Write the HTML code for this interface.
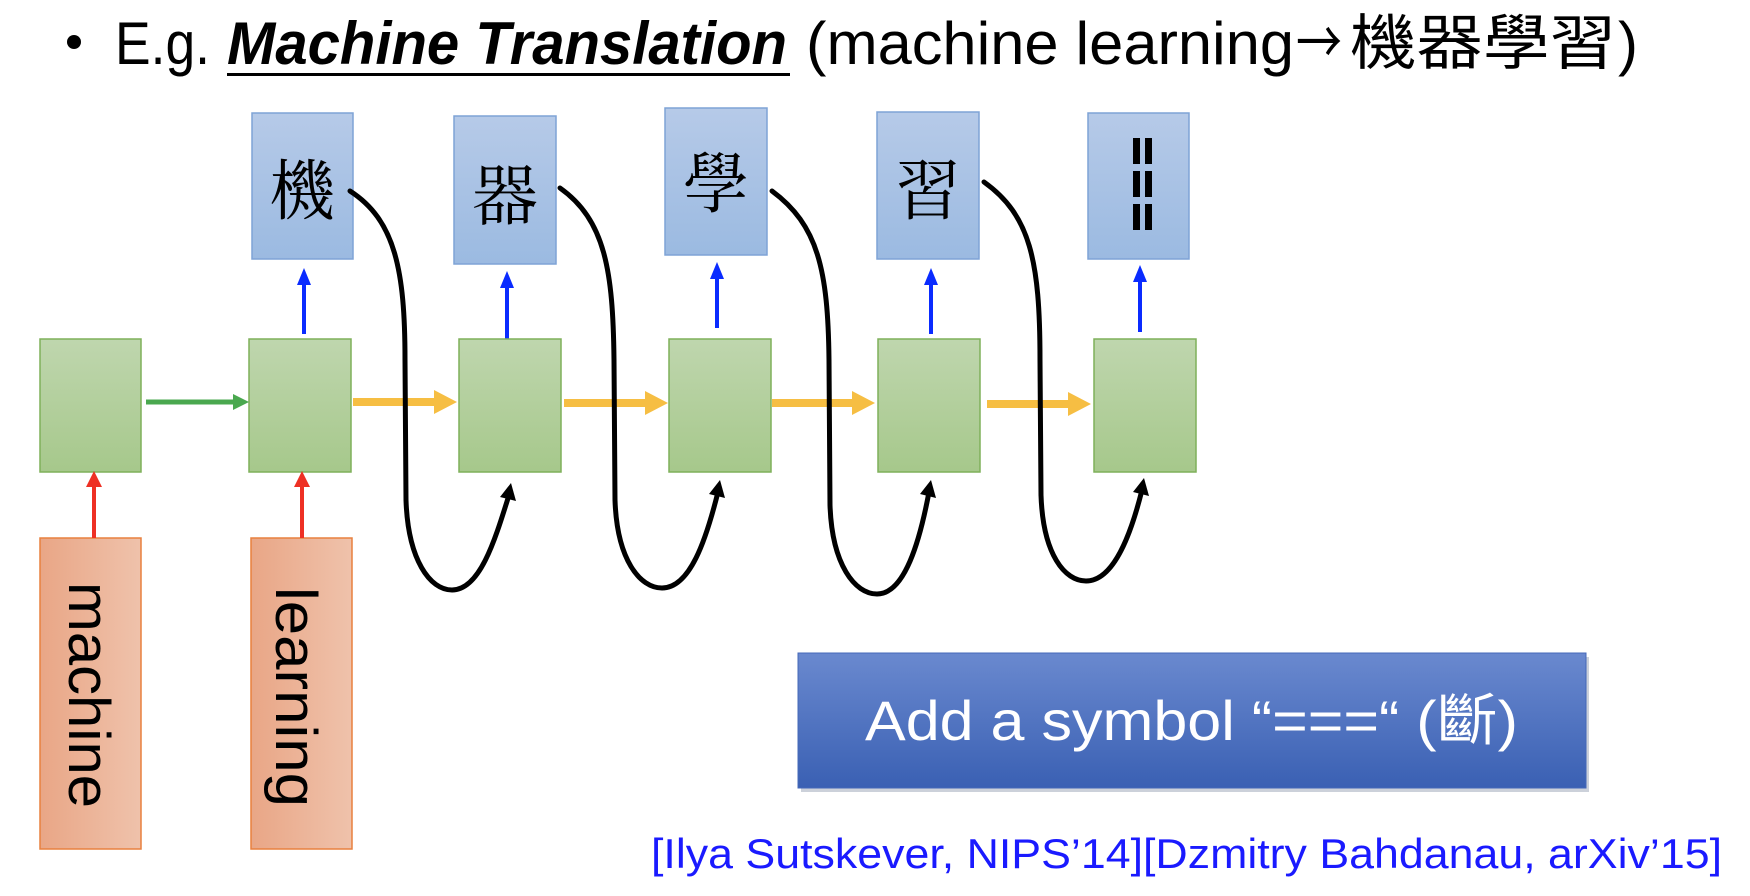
<!DOCTYPE html>
<html><head><meta charset="utf-8"><style>
html,body{margin:0;padding:0;background:#fff;}
svg{display:block;}
</style></head><body>
<svg width="1750" height="896" viewBox="0 0 1750 896" xmlns="http://www.w3.org/2000/svg">
<defs>
<linearGradient id="gg" x1="0" y1="0" x2="0" y2="1"><stop offset="0" stop-color="#bfd6ae"/><stop offset="1" stop-color="#a6c88b"/></linearGradient>
<linearGradient id="bg" x1="0" y1="0" x2="0" y2="1"><stop offset="0" stop-color="#b6cae8"/><stop offset="1" stop-color="#9bbae1"/></linearGradient>
<linearGradient id="og" x1="0" y1="0" x2="1" y2="0"><stop offset="0" stop-color="#e9a686"/><stop offset="1" stop-color="#efc2ab"/></linearGradient>
<linearGradient id="btn" x1="0" y1="0" x2="0" y2="1"><stop offset="0" stop-color="#6a89cf"/><stop offset="1" stop-color="#3a60b3"/></linearGradient>
</defs>

<!-- Title -->
<circle cx="74" cy="42" r="7" fill="#000"/>
<text x="115" y="64" font-family="Liberation Sans, sans-serif" font-size="60" textLength="95" lengthAdjust="spacingAndGlyphs">E.g.</text>
<text x="227" y="64" font-family="Liberation Sans, sans-serif" font-size="60" font-weight="bold" font-style="italic" textLength="560" lengthAdjust="spacingAndGlyphs">Machine Translation</text>
<rect x="227" y="73" width="563" height="3" fill="#000"/>
<text x="806" y="64" font-family="Liberation Sans, 'Noto Sans CJK TC', sans-serif" font-size="60" textLength="488" lengthAdjust="spacingAndGlyphs">(machine learning</text>
<text x="1296" y="64" font-family="'Noto Sans CJK TC', sans-serif" font-size="60" textLength="46" lengthAdjust="spacingAndGlyphs">→</text>
<text x="1350" y="64" font-family="'Noto Sans CJK TC', sans-serif" font-size="60" textLength="266" lengthAdjust="spacingAndGlyphs">機器學習</text>
<text x="1618" y="64" font-family="Liberation Sans, sans-serif" font-size="60">)</text>

<!-- Blue output boxes -->
<g stroke="#7ea3d6" stroke-width="1.5" fill="url(#bg)">
<rect x="252" y="113" width="101" height="146"/>
<rect x="454" y="116" width="102" height="148"/>
<rect x="665" y="108" width="102" height="147"/>
<rect x="877" y="112" width="102" height="147"/>
<rect x="1088" y="113" width="101" height="146"/>
</g>
<g font-family="'Noto Serif CJK SC', 'Noto Sans CJK TC', serif" font-size="66" fill="#000" text-anchor="middle">
<text x="302" y="214">機</text>
<text x="505" y="219">器</text>
<text x="716" y="207">學</text>
<text x="928" y="214">習</text>
</g>
<g fill="#000">
<rect x="1133" y="138" width="7" height="26"/><rect x="1145" y="138" width="7" height="26"/>
<rect x="1133" y="171" width="7" height="26"/><rect x="1145" y="171" width="7" height="26"/>
<rect x="1133" y="204" width="7" height="26"/><rect x="1145" y="204" width="7" height="26"/>
</g>

<!-- Blue arrows -->
<g stroke="#0a2bff" stroke-width="4">
<line x1="304" y1="334" x2="304" y2="284"/>
<line x1="507" y1="339" x2="507" y2="287"/>
<line x1="717" y1="328" x2="717" y2="278"/>
<line x1="931" y1="334" x2="931" y2="284"/>
<line x1="1140" y1="332" x2="1140" y2="281"/>
</g>
<g fill="#0a2bff">
<path d="M297,285L304,268L311,285z"/>
<path d="M500,288L507,271L514,288z"/>
<path d="M710,279L717,262L724,279z"/>
<path d="M924,285L931,268L938,285z"/>
<path d="M1133,282L1140,265L1147,282z"/>
</g>

<!-- Green RNN boxes -->
<g stroke="#7fb05a" stroke-width="1.5" fill="url(#gg)">
<rect x="40" y="339" width="101" height="133"/>
<rect x="249" y="339" width="102" height="133"/>
<rect x="459" y="339" width="102" height="133"/>
<rect x="669" y="339" width="102" height="133"/>
<rect x="878" y="339" width="102" height="133"/>
<rect x="1094" y="339" width="102" height="133"/>
</g>

<!-- Orange input boxes -->
<g stroke="#e8803f" stroke-width="1.5" fill="url(#og)">
<rect x="40" y="538" width="101" height="311"/>
<rect x="251" y="538" width="101" height="311"/>
</g>
<g font-family="Liberation Sans, sans-serif" font-size="58" fill="#000" text-anchor="middle">
<text transform="translate(69,695) rotate(90)" textLength="226" lengthAdjust="spacingAndGlyphs">machine</text>
<text transform="translate(276,697) rotate(90)" textLength="220" lengthAdjust="spacingAndGlyphs">learning</text>
</g>

<!-- Red arrows -->
<g stroke="#ee3024" stroke-width="4">
<line x1="94" y1="538" x2="94" y2="485"/>
<line x1="302" y1="538" x2="302" y2="485"/>
</g>
<g fill="#ee3024">
<path d="M86,487L94,471L102,487z"/>
<path d="M294,487L302,471L310,487z"/>
</g>

<!-- Green arrow -->
<line x1="146" y1="402" x2="236" y2="402" stroke="#4aa84f" stroke-width="5"/>
<path d="M233,394L249,402L233,410z" fill="#4aa84f"/>

<!-- Yellow arrows -->
<g stroke="#f6be43" stroke-width="8">
<line x1="353" y1="402" x2="438" y2="402"/>
<line x1="564" y1="403" x2="649" y2="403"/>
<line x1="772" y1="403" x2="856" y2="403"/>
<line x1="987" y1="404" x2="1072" y2="404"/>
</g>
<g fill="#f6be43">
<path d="M434,390L457,402L434,414z"/>
<path d="M645,391L668,403L645,415z"/>
<path d="M852,391L875,403L852,415z"/>
<path d="M1068,392L1091,404L1068,416z"/>
</g>

<!-- Black feedback curves -->
<g fill="none" stroke="#000" stroke-width="5" stroke-linecap="round">
<path d="M350,191 C395,220 405,270 405,360 L406,500 C408,560 430,590 452,590 C480,590 495,540 509,495"/>
<path d="M560,188 C605,220 613,270 614,360 L615,500 C617,560 640,588 662,588 C690,588 706,540 718,492"/>
<path d="M772,191 C818,225 828,270 829,360 L830,505 C832,565 855,594 877,594 C905,594 920,540 929,492"/>
<path d="M984,182 C1030,215 1040,260 1040,360 L1041,495 C1043,555 1065,581 1086,581 C1115,581 1132,530 1142,490"/>
</g>
<g fill="#000">
<path d="M500,497L511,483L516,501z"/>
<path d="M709,494L720,480L725,498z"/>
<path d="M920,494L931,480L936,498z"/>
<path d="M1133,492L1144,478L1149,496z"/>
</g>

<!-- Button -->
<rect x="801" y="657" width="788" height="135" fill="#9aa3b5" opacity="0.5"/>
<rect x="798" y="653" width="788" height="135" fill="url(#btn)" stroke="#4468b8" stroke-width="1"/>
<text x="865" y="740" font-family="Liberation Sans, 'Noto Sans CJK TC', sans-serif" font-size="56" fill="#fff" textLength="653" lengthAdjust="spacingAndGlyphs">Add a symbol “===“ (斷)</text>

<!-- Citation -->
<text x="651" y="868" font-family="Liberation Sans, sans-serif" font-size="42" fill="#1a1aff" textLength="1071" lengthAdjust="spacingAndGlyphs">[Ilya Sutskever, NIPS’14][Dzmitry Bahdanau, arXiv’15]</text>
</svg>
</body></html>
